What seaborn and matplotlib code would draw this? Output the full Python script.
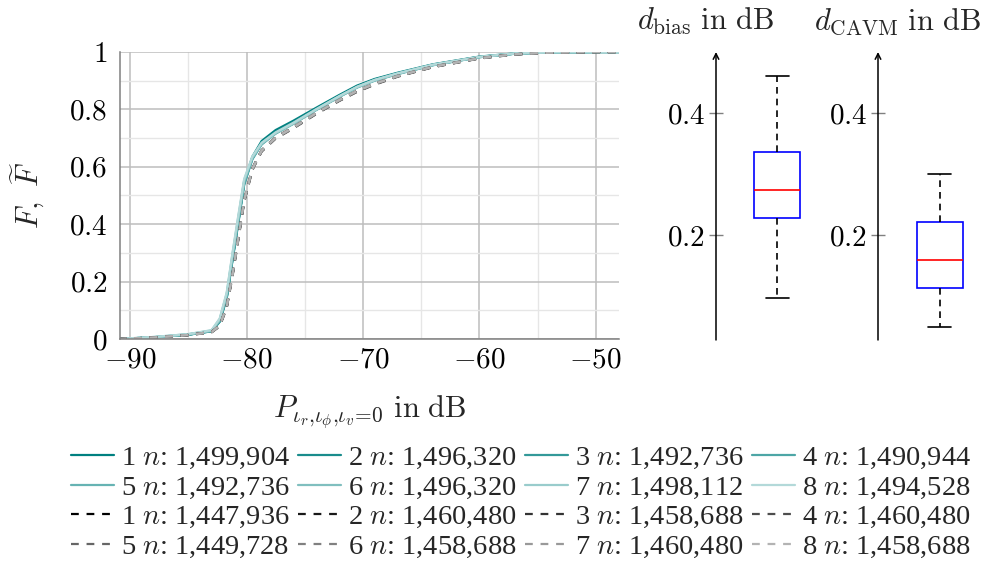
import matplotlib
matplotlib.use("Agg")
import matplotlib.pyplot as plt
import seaborn as sns
import numpy as np
import pandas as pd
from matplotlib.ticker import MultipleLocator

# ---------------- data ----------------
x_db = [-91, -88, -85, -83, -82.3, -81.7, -81.2, -80.7, -80.2, -79.5, -78.7, -77.5,
        -76, -74, -72, -70.5, -69, -67, -64, -60, -57, -54, -50, -47.5]

solid_1 = [0.000, 0.006, 0.015, 0.028, 0.062, 0.145, 0.280, 0.410, 0.545, 0.635, 0.690, 0.728, 0.760, 0.806, 0.851, 0.883, 0.906, 0.928, 0.957, 0.984, 0.995, 0.999, 1.0, 1.0]
solid_2 = [0.000, 0.006, 0.015, 0.027, 0.060, 0.142, 0.275, 0.405, 0.540, 0.630, 0.684, 0.722, 0.755, 0.803, 0.848, 0.880, 0.904, 0.926, 0.956, 0.983, 0.994, 0.999, 1.0, 1.0]
solid_3 = [0.000, 0.006, 0.016, 0.028, 0.063, 0.148, 0.282, 0.412, 0.542, 0.628, 0.680, 0.718, 0.752, 0.800, 0.846, 0.878, 0.902, 0.925, 0.955, 0.983, 0.994, 0.999, 1.0, 1.0]
solid_4 = [0.000, 0.005, 0.015, 0.027, 0.061, 0.146, 0.279, 0.408, 0.538, 0.626, 0.678, 0.716, 0.750, 0.799, 0.845, 0.877, 0.901, 0.924, 0.954, 0.982, 0.994, 0.999, 1.0, 1.0]
solid_5 = [0.000, 0.006, 0.016, 0.029, 0.066, 0.152, 0.288, 0.418, 0.548, 0.630, 0.679, 0.716, 0.749, 0.798, 0.844, 0.876, 0.900, 0.923, 0.954, 0.982, 0.994, 0.999, 1.0, 1.0]
solid_6 = [0.000, 0.006, 0.016, 0.029, 0.067, 0.155, 0.292, 0.422, 0.550, 0.631, 0.680, 0.717, 0.750, 0.799, 0.845, 0.877, 0.901, 0.924, 0.954, 0.982, 0.994, 0.999, 1.0, 1.0]
solid_7 = [0.000, 0.007, 0.017, 0.030, 0.070, 0.160, 0.298, 0.428, 0.555, 0.634, 0.682, 0.718, 0.751, 0.800, 0.846, 0.878, 0.902, 0.925, 0.955, 0.983, 0.994, 0.999, 1.0, 1.0]
solid_8 = [0.000, 0.007, 0.017, 0.031, 0.072, 0.163, 0.302, 0.432, 0.558, 0.636, 0.684, 0.720, 0.753, 0.801, 0.847, 0.879, 0.903, 0.926, 0.956, 0.983, 0.995, 0.999, 1.0, 1.0]

dashed_1 = [0.000, 0.005, 0.014, 0.024, 0.046, 0.112, 0.225, 0.352, 0.482, 0.592, 0.656, 0.701, 0.736, 0.786, 0.832, 0.863, 0.888, 0.916, 0.948, 0.978, 0.992, 0.998, 1.0, 1.0]
dashed_2 = [0.000, 0.005, 0.014, 0.025, 0.048, 0.115, 0.229, 0.357, 0.486, 0.595, 0.658, 0.703, 0.738, 0.788, 0.834, 0.865, 0.890, 0.917, 0.949, 0.979, 0.992, 0.998, 1.0, 1.0]
dashed_3 = [0.000, 0.005, 0.013, 0.024, 0.045, 0.110, 0.222, 0.349, 0.479, 0.590, 0.654, 0.699, 0.734, 0.785, 0.831, 0.862, 0.887, 0.915, 0.947, 0.978, 0.991, 0.998, 1.0, 1.0]
dashed_4 = [0.000, 0.005, 0.014, 0.025, 0.047, 0.114, 0.227, 0.355, 0.484, 0.593, 0.657, 0.702, 0.737, 0.787, 0.833, 0.864, 0.889, 0.916, 0.948, 0.978, 0.992, 0.998, 1.0, 1.0]
dashed_5 = [0.000, 0.005, 0.013, 0.023, 0.044, 0.108, 0.219, 0.346, 0.476, 0.588, 0.653, 0.698, 0.733, 0.784, 0.830, 0.861, 0.886, 0.914, 0.947, 0.977, 0.991, 0.998, 1.0, 1.0]
dashed_6 = [0.000, 0.005, 0.014, 0.024, 0.046, 0.111, 0.224, 0.351, 0.481, 0.591, 0.655, 0.700, 0.735, 0.786, 0.832, 0.863, 0.888, 0.916, 0.948, 0.978, 0.992, 0.998, 1.0, 1.0]
dashed_7 = [0.000, 0.005, 0.014, 0.025, 0.048, 0.116, 0.230, 0.358, 0.487, 0.596, 0.659, 0.704, 0.739, 0.789, 0.835, 0.866, 0.891, 0.918, 0.950, 0.979, 0.992, 0.998, 1.0, 1.0]
dashed_8 = [0.000, 0.005, 0.014, 0.024, 0.047, 0.113, 0.226, 0.354, 0.483, 0.592, 0.656, 0.701, 0.736, 0.787, 0.833, 0.864, 0.889, 0.916, 0.948, 0.978, 0.992, 0.998, 1.0, 1.0]

solid_series = [solid_1, solid_2, solid_3, solid_4, solid_5, solid_6, solid_7, solid_8]
dashed_series = [dashed_1, dashed_2, dashed_3, dashed_4, dashed_5, dashed_6, dashed_7, dashed_8]

solid_n = ["1,499,904", "1,496,320", "1,492,736", "1,490,944",
           "1,492,736", "1,496,320", "1,498,112", "1,494,528"]
dashed_n = ["1,447,936", "1,460,480", "1,458,688", "1,460,480",
            "1,449,728", "1,458,688", "1,460,480", "1,458,688"]

# box statistics: lower whisker, Q1, median, Q3, upper whisker
bias_stats = [0.097, 0.228, 0.274, 0.336, 0.461]
cavm_stats = [0.049, 0.113, 0.159, 0.221, 0.300]

x_ticks = [-90, -80, -70, -60, -50]
y_ticks = [0, 0.2, 0.4, 0.6, 0.8, 1]
y_tick_labels = ["0", "0.2", "0.4", "0.6", "0.8", "1"]
box_ticks = [0.2, 0.4]

# ---------------- style ----------------
sns.set_style("white")
plt.rcParams["font.family"] = ["Liberation Serif", "DejaVu Serif"]
plt.rcParams["mathtext.fontset"] = "cm"

teal = np.array([0.0, 0.5, 0.5])
solid_colors = [tuple(teal * p + (1 - p)) for p in [1.0, 0.9, 0.8, 0.7, 0.6, 0.5, 0.4, 0.3]]
dashed_colors = [tuple([1 - p] * 3) for p in [1.0, 0.9, 0.8, 0.7, 0.6, 0.5, 0.4, 0.3]]

W, H = 982, 583
fig = plt.figure(figsize=(W / 100, H / 100), dpi=100)

def px_axes(left, top, right, bottom):
    return fig.add_axes([left / W, 1 - bottom / H, (right - left) / W, (bottom - top) / H])

TICK_FS = 21
ax = px_axes(120, 52, 619, 339)

lw = 1.6
for i, (vals, c) in enumerate(zip(solid_series, solid_colors)):
    sns.lineplot(x=x_db, y=vals, ax=ax, color=c, lw=lw, estimator=None,
                 label=f"{i + 1} $n$: {solid_n[i]}")
for i, (vals, c) in enumerate(zip(dashed_series, dashed_colors)):
    sns.lineplot(x=x_db, y=vals, ax=ax, color=c, lw=lw, estimator=None,
                 dashes=False, linestyle=(0, (3.5, 3.5)),
                 label=f"{i + 1} $n$: {dashed_n[i]}")

ax.set_xlim(-90.87, -48.0)
ax.set_ylim(0, 1)
ax.set_xticks(x_ticks, labels=[f"${v}$" for v in x_ticks])
ax.set_yticks(y_ticks, labels=[f"${v}$" for v in y_tick_labels])
ax.xaxis.set_minor_locator(MultipleLocator(5))
ax.yaxis.set_minor_locator(MultipleLocator(0.1))
ax.grid(True, which="major", color="#bdbdbd", lw=1.1)
ax.grid(True, which="minor", color="#e6e6e6", lw=1.0)
ax.set_axisbelow(True)
ax.tick_params(which="both", direction="in", colors="#808080", labelcolor="black",
               labelsize=TICK_FS)
ax.tick_params(which="major", length=6, width=1)
ax.tick_params(which="minor", length=4, width=1)
ax.tick_params(axis="y", pad=9)
ax.tick_params(axis="x", pad=6)
for s in ["top", "right"]:
    ax.spines[s].set_visible(False)
for s in ["left", "bottom"]:
    ax.spines[s].set_color("#808080")
    ax.spines[s].set_linewidth(1.1)
ax.set_xlabel(r"$P_{\iota_r{,}\iota_\phi{,}\iota_v\!=\!0}\ \mathrm{in\ dB}$", fontsize=22, labelpad=14)
ax.set_ylabel(r"$F,\ \widetilde{F}$", fontsize=22, labelpad=16)

handles, labels = ax.get_legend_handles_labels()
if ax.get_legend() is not None:
    ax.get_legend().remove()
# reorder so that rows read: solid 1-4, solid 5-8, dashed 1-4, dashed 5-8
order = []
for col in range(4):
    order += [col, col + 4, 8 + col, 12 + col]
fig.legend([handles[k] for k in order], [labels[k] for k in order], ncol=4,
           loc="center", bbox_to_anchor=(521 / W, 1 - 502.5 / H), frameon=False,
           fontsize=20.5, handlelength=1.5, handletextpad=0.25, columnspacing=0.3,
           labelspacing=0.12, borderpad=0)

# ---------------- box plots ----------------
def box_axes(left_px, center_px, stats, title, title_x):
    bx = px_axes(left_px, 52, left_px + 100, 340)
    sns.boxplot(y=stats, ax=bx, width=0.46, whis=1.5, linewidth=1.2,
                boxprops=dict(facecolor="white", edgecolor="blue"),
                medianprops=dict(color="red"),
                whiskerprops=dict(color="black", linestyle=(0, (4, 3))),
                capprops=dict(color="black"), showfliers=False)
    off = (center_px - left_px) / 100
    bx.set_xlim(-off, 1 - off)
    bx.set_ylim(0.028, 0.5)
    for s in bx.spines.values():
        s.set_visible(False)
    bx.set_xticks([])
    bx.set_xlabel("")
    bx.set_ylabel("")
    bx.set_yticks(box_ticks, labels=[f"${v}$" for v in box_ticks])
    bx.tick_params(axis="y", direction="inout", length=10, width=1, colors="#808080",
                   labelcolor="black", labelsize=TICK_FS, pad=3, left=True)
    bx.grid(False)
    bx.annotate("", xy=(0, 1), xytext=(0, 0), xycoords="axes fraction",
                arrowprops=dict(arrowstyle="->", color="black", lw=1.1,
                                shrinkA=0, shrinkB=0))
    fig.text(title_x / W, 1 - 30 / H, title, ha="center", va="baseline", fontsize=22)
    return bx

box_axes(716, 777, bias_stats, r"$d_{\mathrm{bias}}\ \mathrm{in\ dB}$", 705)
box_axes(878, 940, cavm_stats, r"$d_{\mathrm{CAVM}}\ \mathrm{in\ dB}$", 897)

fig.savefig("out.png", dpi=100)
